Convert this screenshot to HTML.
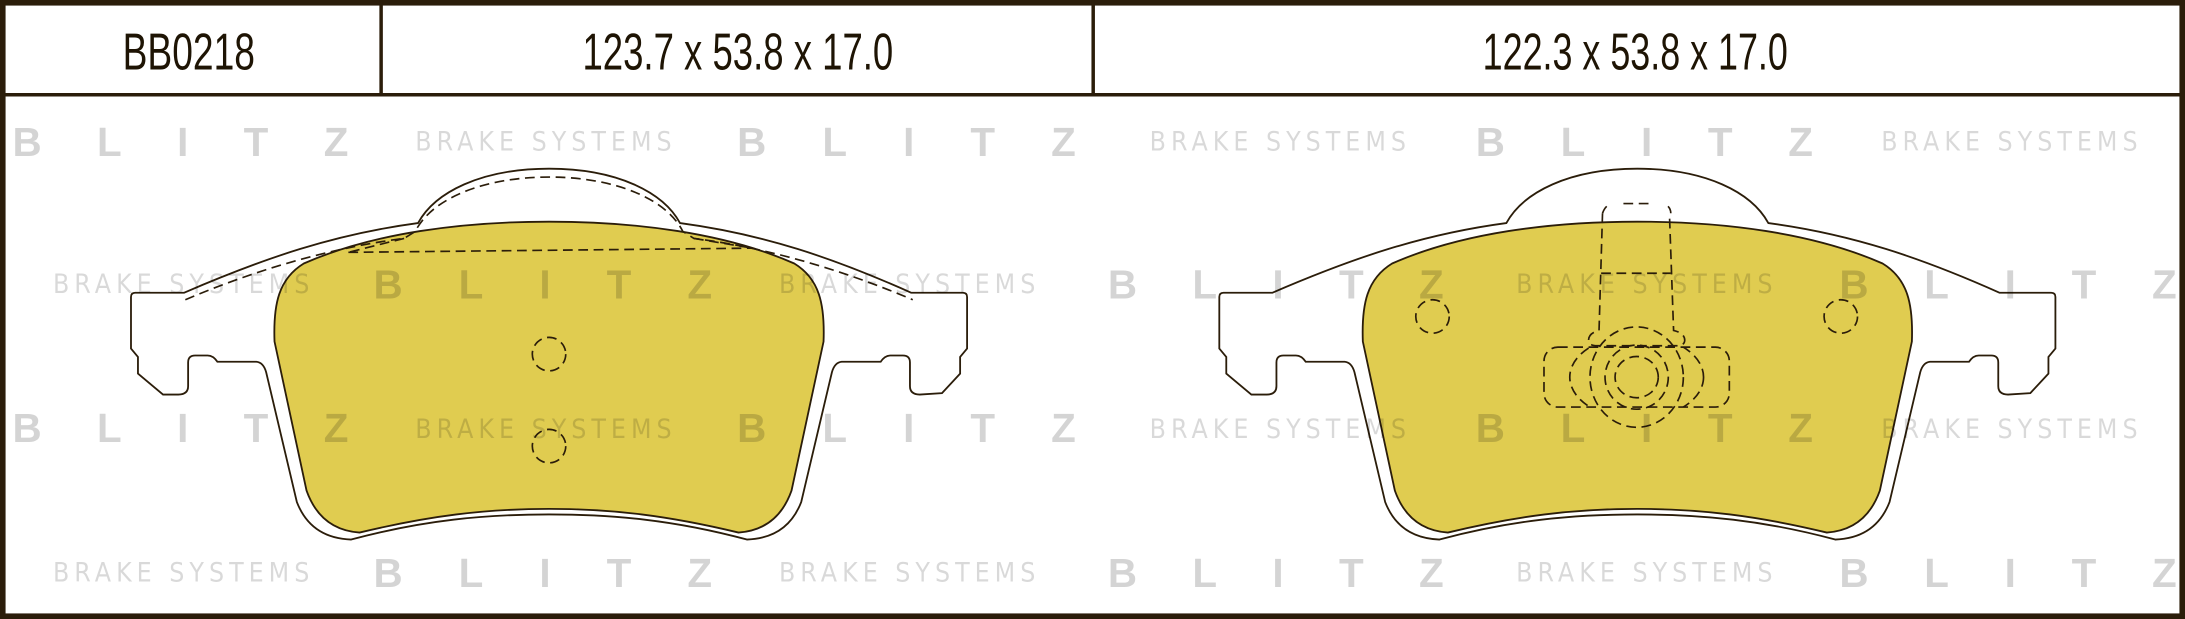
<!DOCTYPE html>
<html><head><meta charset="utf-8"><style>
html,body{margin:0;padding:0;background:#fff;}
svg{display:block;}
</style></head><body>
<svg width="2185" height="619" viewBox="0 0 1568 444" preserveAspectRatio="none" xmlns="http://www.w3.org/2000/svg">
<defs>
<clipPath id="rc"><rect x="1108" y="249" width="133" height="43" rx="10"/></clipPath>
<g id="plate">
<path d="M132,210 C190,185 240,168 300,160 C312,138 345,121 394,121 C443,121 476,138 488,160 C548,168 598,185 654,210 L691,210 Q694,210 694,213 L694,250 L689,256 L689,268 L676,282 L660,283 Q653,283 653,277 L653,260 Q653,255 648,255 L639,255 Q635,255 632,259.5 L604,259.5 Q599,260 597,267 L575,360 Q565,386 536,387 C484,373 440,369 394,369 C348,369 304,373 252,387 Q223,386 213,360 L191,267 Q189,260 184,259.5 L156,259.5 Q153,255 149,255 L140,255 Q135,255 135,260 L135,277 Q135,283 128,283 L117,283 L99,268 L99,256 L94,250 L94,213 Q94,210 97,210 Z" fill="#fff" stroke="#2b1d0a" stroke-width="1.3"/>
<path d="M197,245 C196,218 200,200 218,189 C268,167 332,159 394,159 C456,159 520,167 570,189 C588,200 592,218 591,245 L568,352 Q558,380 530,382 C480,370 440,365 394,365 C348,365 308,370 258,382 Q230,380 220,352 Z" fill="#e0cc50" stroke="#2b1d0a" stroke-width="1.3"/>
</g>
</defs>
<rect x="0" y="0" width="1568" height="444" fill="#fff"/>
<use href="#plate"/>
<use href="#plate" transform="translate(781,0)"/>
<g fill="none" stroke="#2b1d0a" stroke-width="1.2" stroke-dasharray="7,4">
<path d="M133,215 C180,195 235,178 290,171 L298,166 C310,142 348,127 394,127 C440,127 478,142 490,166 L498,171 C553,178 608,195 655,215"/>
<path d="M250,181 L540,178"/>
<path d="M290,171 L250,181 M498,171 L540,178"/>
<ellipse cx="394" cy="254" rx="12" ry="12"/>
<ellipse cx="394" cy="320" rx="12" ry="12"/>
<ellipse cx="1028" cy="227" rx="12" ry="12"/>
<ellipse cx="1321" cy="227" rx="12" ry="12"/>
<path d="M1165,146 L1184,146"/>
<path d="M1150,153 Q1151,150 1153,148 M1197,148 Q1199,150 1199,153"/>
<path d="M1150,153 L1147.5,237 Q1140,239 1140,244 Q1140,248 1146,248 L1203,248 Q1209,248 1209,244 Q1209,239 1201,237 L1198,153"/>
<path d="M1149,196 L1199,196"/>
<rect x="1108" y="249" width="133" height="43" rx="10"/>
<ellipse cx="1174.5" cy="270.5" rx="15.5" ry="14.8"/>
<ellipse cx="1174.5" cy="270.5" rx="22.7" ry="23"/>
<ellipse cx="1174.5" cy="270.5" rx="33.5" ry="36"/>
<ellipse cx="1174.5" cy="270.5" rx="48" ry="30" clip-path="url(#rc)"/>
</g>
<g fill="#000" fill-opacity="0.17" font-family="'Liberation Sans',sans-serif">
<g font-weight="bold" font-size="29">
<text x="9" y="112" textLength="241" lengthAdjust="spacing">BLITZ</text>
<text x="529" y="112" textLength="243" lengthAdjust="spacing">BLITZ</text>
<text x="1059" y="112" textLength="242" lengthAdjust="spacing">BLITZ</text>
<text x="268" y="214" textLength="243" lengthAdjust="spacing">BLITZ</text>
<text x="795" y="214" textLength="241" lengthAdjust="spacing">BLITZ</text>
<text x="1320" y="214" textLength="242" lengthAdjust="spacing">BLITZ</text>
<text x="9" y="317" textLength="241" lengthAdjust="spacing">BLITZ</text>
<text x="529" y="317" textLength="243" lengthAdjust="spacing">BLITZ</text>
<text x="1059" y="317" textLength="242" lengthAdjust="spacing">BLITZ</text>
<text x="268" y="421" textLength="243" lengthAdjust="spacing">BLITZ</text>
<text x="795" y="421" textLength="241" lengthAdjust="spacing">BLITZ</text>
<text x="1320" y="421" textLength="242" lengthAdjust="spacing">BLITZ</text>
</g>
<g font-size="19" fill-opacity="0.15" font-family="'Liberation Sans Narrow','DejaVu Sans Condensed','Liberation Sans',sans-serif">
<text x="298" y="108" textLength="184" lengthAdjust="spacing">BRAKE SYSTEMS</text>
<text x="825" y="108" textLength="184" lengthAdjust="spacing">BRAKE SYSTEMS</text>
<text x="1350" y="108" textLength="184" lengthAdjust="spacing">BRAKE SYSTEMS</text>
<text x="38" y="210" textLength="184" lengthAdjust="spacing">BRAKE SYSTEMS</text>
<text x="559" y="210" textLength="184" lengthAdjust="spacing">BRAKE SYSTEMS</text>
<text x="1088" y="210" textLength="184" lengthAdjust="spacing">BRAKE SYSTEMS</text>
<text x="298" y="314" textLength="184" lengthAdjust="spacing">BRAKE SYSTEMS</text>
<text x="825" y="314" textLength="184" lengthAdjust="spacing">BRAKE SYSTEMS</text>
<text x="1350" y="314" textLength="184" lengthAdjust="spacing">BRAKE SYSTEMS</text>
<text x="38" y="417" textLength="184" lengthAdjust="spacing">BRAKE SYSTEMS</text>
<text x="559" y="417" textLength="184" lengthAdjust="spacing">BRAKE SYSTEMS</text>
<text x="1088" y="417" textLength="184" lengthAdjust="spacing">BRAKE SYSTEMS</text>
</g>
</g>
<g stroke="#2b1d0a" fill="none">
<rect x="2" y="2" width="1564" height="440" stroke-width="4"/>
<line x1="0" y1="68" x2="1568" y2="68" stroke-width="2.5"/>
<line x1="273.5" y1="0" x2="273.5" y2="68" stroke-width="2.5"/>
<line x1="784.5" y1="0" x2="784.5" y2="68" stroke-width="2.5"/>
</g>
<g fill="#1e1404" font-family="'Liberation Sans Narrow','Liberation Sans',sans-serif" font-size="37">
<text x="88" y="50" textLength="95" lengthAdjust="spacingAndGlyphs">BB0218</text>
<text x="418" y="50" textLength="223" lengthAdjust="spacingAndGlyphs">123.7 x 53.8 x 17.0</text>
<text x="1064" y="50" textLength="219" lengthAdjust="spacingAndGlyphs">122.3 x 53.8 x 17.0</text>
</g>
</svg>
</body></html>
